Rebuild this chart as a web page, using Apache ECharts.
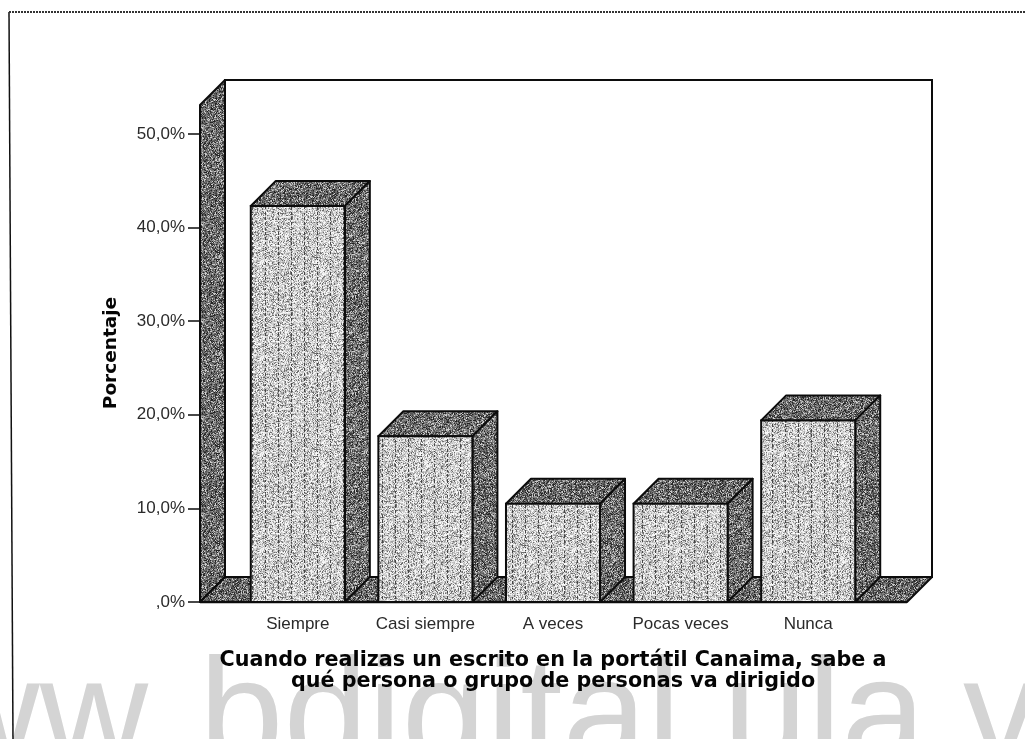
<!DOCTYPE html>
<html><head><meta charset="utf-8">
<style>html,body{margin:0;padding:0;background:#fff}#c{width:1025px;height:739px}</style>
<script src="https://cdn.jsdelivr.net/npm/echarts@6/dist/echarts.min.js"></script>
</head><body><div id="c"></div>
<script>
const categories = ['Siempre','Casi siempre','A veces','Pocas veces','Nunca'];
const percentages = [42.3,17.7,10.5,10.5,19.4];
const yTicks = {0:',0%',10:'10,0%',20:'20,0%',30:'30,0%',40:'40,0%',50:'50,0%'};
const xTitle = 'Cuando realizas un escrito en la portátil Canaima, sabe a\nqué persona o grupo de personas va dirigido';
const yTitle = 'Porcentaje';
const watermarkParts = ['www.','bdigital.ula.','ve'];

// print-like stipple textures (deterministic hash, purely decorative)
function hash(x,y){let h=(x*374761393+y*668265263)|0;h=(h^(h>>>13))*1274126177|0;return ((h^(h>>>16))>>>0)/4294967296;}
function stipple(w,h,levels,dash){
  const c=document.createElement('canvas');c.width=w;c.height=h;
  const g=c.getContext('2d');
  for(let y=0;y<h;y++)for(let x=0;x<w;x++){
    const r=hash(x+w*3,y+h*7);
    let v=levels[Math.min(levels.length-1,Math.floor(r*levels.length))];
    if(dash&&x%dash===5&&y%5<3&&hash(x,y)<0.8)v=70;
    g.fillStyle='rgb('+v+','+v+','+v+')';g.fillRect(x,y,1,1);
  }
  return {image:c,repeat:'repeat'};
}
const darkFill=stipple(97,97,[35,65,85,100,115,130,160,205],0);
const lightFill=stipple(104,96,[110,160,185,195,210,225,240,250],13);
const ink='#0c0c0c';
const depth=25;

const chart=echarts.init(document.getElementById('c'),null,{renderer:'canvas'});
function poly(points,fill){
  return {type:'polygon',shape:{points},style:{fill,stroke:ink,lineWidth:2,lineJoin:'round'}};
}
chart.setOption({
  animation:false,backgroundColor:'#fff',
  grid:{left:234,right:153,top:134,bottom:137},
  xAxis:{type:'category',data:categories,
    axisLine:{show:true,lineStyle:{color:ink,width:2}},
    axisTick:{alignWithLabel:true,length:6,lineStyle:{color:ink,width:1.5}},
    axisLabel:{color:'#2a2a2a',fontFamily:'Liberation Sans',fontSize:17,margin:14,interval:0,hideOverlap:false},
    name:xTitle,nameLocation:'middle',nameGap:48,
    nameTextStyle:{color:'#050505',fontFamily:'DejaVu Sans',fontWeight:'bold',fontSize:20.7,lineHeight:21}},
  yAxis:{type:'value',min:0,max:50,interval:10,offset:34,
    axisLine:{show:false},splitLine:{show:false},
    axisTick:{show:true,length:12,lineStyle:{color:ink,width:1.5}},
    axisLabel:{color:'#2a2a2a',fontFamily:'Liberation Sans',fontSize:17,margin:15,formatter:v=>yTicks[v]},
    name:yTitle,nameLocation:'middle',nameGap:79,
    nameTextStyle:{color:'#050505',fontFamily:'DejaVu Sans',fontWeight:'bold',fontSize:18.5,padding:[0,0,0,30]}},
  graphic:[
    {type:'text',z:-20,silent:true,style:{text:watermarkParts[0],x:-177,y:647,font:"150px 'Liberation Sans'",fill:'#d4d4d4',textBaseline:'top'}},
    {type:'text',z:-20,silent:true,style:{text:watermarkParts[1],x:199,y:646,font:"152px 'Liberation Sans'",fill:'#d4d4d4',textBaseline:'top'}},
    {type:'text',z:-20,silent:true,style:{text:watermarkParts[2],x:963,y:647,font:"150px 'Liberation Sans'",fill:'#d4d4d4',textBaseline:'top'}},
    {type:'line',z:-10,shape:{x1:9,y1:12,x2:13,y2:739},style:{stroke:'#111',lineWidth:1.5}},
    {type:'line',z:-10,shape:{x1:9,y1:12,x2:1025,y2:12},style:{stroke:'#333',lineWidth:2,lineDash:[2,1]}}
  ],
  series:[
    {type:'custom',name:'frame',z:1,clip:false,silent:true,data:[[0,0]],
     renderItem(p,api){
       const o=api.coord([0,0]),t=api.coord([0,53.1]);
       const L=200,R=907,B=o[1],T=t[1];
       return {type:'group',children:[
         {type:'rect',shape:{x:L+depth,y:T-depth,width:R-L,height:B-T},style:{fill:'#fff',stroke:ink,lineWidth:2}},
         poly([[L,T],[L+depth,T-depth],[L+depth,B-depth],[L,B]],darkFill),
         poly([[L,B],[L+depth,B-depth],[R+depth,B-depth],[R,B]],darkFill),
         {type:'line',shape:{x1:L,y1:B,x2:R,y2:B},style:{stroke:ink,lineWidth:2.5}}
       ]};
     }},
    {type:'custom',name:'Porcentaje',z:3,clip:false,silent:true,
     data:percentages.map((v,i)=>[i,v]),encode:{x:0,y:1},
     renderItem(p,api){
       const c=api.coord([api.value(0),api.value(1)]),o=api.coord([api.value(0),0]);
       const w=api.size([1,0])[0]*0.737;
       const x0=c[0]-w/2,x1=c[0]+w/2,yT=c[1],yB=o[1];
       return {type:'group',children:[
         poly([[x0,yT],[x0+depth,yT-depth],[x1+depth,yT-depth],[x1,yT]],darkFill),
         poly([[x1,yT],[x1+depth,yT-depth],[x1+depth,yB-depth],[x1,yB]],darkFill),
         {type:'rect',shape:{x:x0,y:yT,width:w,height:yB-yT},style:{fill:lightFill,stroke:ink,lineWidth:2}}
       ]};
     }}
  ]
});
</script></body></html>
